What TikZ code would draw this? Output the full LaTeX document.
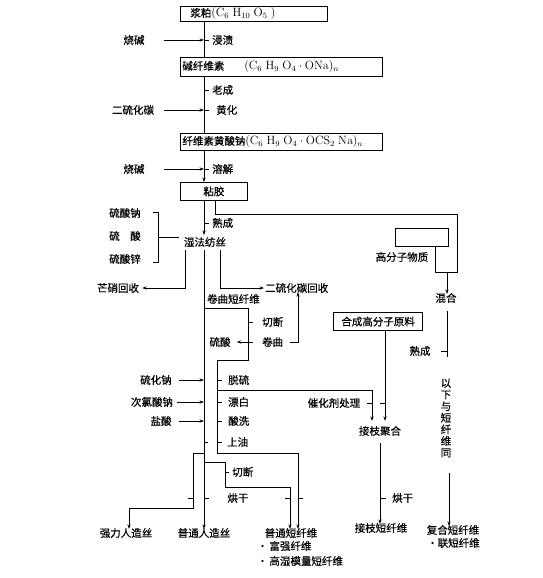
\documentclass[tikz,border=0pt]{standalone}
\usepackage[no-math]{fontspec}
\setmainfont{Noto Sans CJK SC}[FakeBold=0.5]
\usetikzlibrary{arrows.meta}
\newcommand{\fml}[1]{{\fontsize{12}{14}\selectfont$#1$}}
\begin{document}
\begin{tikzpicture}[x=1pt,y=-1pt,
  every node/.style={inner sep=0pt, font=\fontsize{10.5}{12}\selectfont},
  box/.style={draw, line width=0.8pt, inner sep=0pt, anchor=north west},
  ln/.style={line width=0.8pt},
  arr/.style={line width=0.8pt, -{Stealth[length=4.5pt,width=3.2pt]}},
  lw/.style={anchor=west},
]
\useasboundingbox[fill=white] (0,0) rectangle (543,578);

% x reference coordinates
\coordinate (mx) at (204,0);
\coordinate (rx) at (217,0);
\coordinate (c185) at (185,0);
\coordinate (c220) at (220,0);
\coordinate (c215) at (215,0);
\coordinate (c372) at (372,0);
\coordinate (c385) at (385,0);
\coordinate (c380) at (380,0);
\coordinate (c435) at (435,0);
\coordinate (c447) at (447,0);
\coordinate (c449) at (449,0);

% boxes
\node[box, minimum width=147pt, minimum height=15pt, text width=127pt, inner xsep=10pt, align=left] (b1) at (180,6) {浆粕\fml{(\mathrm{C_6\;H_{10}\;O_5}\;)}};
\node[box, minimum width=202pt, minimum height=19pt, text width=198pt, inner xsep=2pt, align=left] (b2) at (180,57) {碱纤维素\hspace{20pt}\fml{(\mathrm{C_6\;H_9\;O_4\cdot ONa})_n}};
\node[box, minimum width=202pt, minimum height=17pt, text width=198pt, inner xsep=2pt, align=left] (b3) at (180,133) {纤维素黄酸钠\fml{(\mathrm{C_6\;H_9\;O_4\cdot OCS_2\;Na})_n}};
\node[box, minimum width=67pt, minimum height=18pt] (b4) at (180,182) {粘胶};
\node[box, minimum width=53pt, minimum height=18pt] (b5) at (395,228) {};
\node[box, line width=1.2pt, minimum width=89pt, minimum height=18pt] (b6) at (333,312) {合成高分子原料};

% top labels
\node (sj1) at (134,40) {烧碱};
\node[lw] (jz) at (212,40) {浸渍};
\node[lw] (lc) at (212,90) {老成};
\node (cs2) at (133,110) {二硫化碳};
\node[lw] (hh1) at (216,110) {黄化};
\node (sj2) at (134,169) {烧碱};
\node[lw] (rj) at (212,169) {溶解};

% main column top
\draw[ln] (b1.south -| mx) -- (b2.north -| mx);
\draw[ln] (b2.south -| mx) -- (b3.north -| mx);
\draw[arr] (b3.south -| mx) -- (b4.north -| mx);

\draw[arr] ([xshift=19pt]sj1.east) -- (sj1.east -| mx);
\draw[ln] (jz.west -| mx) -- ++(5,0);
\draw[ln] (lc.west -| mx) -- ++(5,0);
\draw[arr] ([xshift=10pt]cs2.east) -- (cs2.east -| mx);
\draw[ln] (hh1.west -| mx) -- ++(5,0);
\draw[arr] ([xshift=19pt]sj2.east) -- (sj2.east -| mx);
\draw[ln] (rj.west -| mx) -- ++(5,0);

% spinning
\node (wet) at (205,242) {湿法纺丝};
\node[lw] (sc1) at (212,223) {熟成};
\draw[arr] (b4.south -| mx) -- ([yshift=2pt]wet.north -| mx);
\draw[ln] (sc1.west -| mx) -- ++(5,0);

\node (sn) at (125,213) {硫酸钠};
\node (ss) at (125,236) {硫\quad 酸};
\node (sz) at (125,259) {硫酸锌};
\coordinate (br1) at (153,212);
\coordinate (br2) at (158,212);
\coordinate (br3) at (158,262);
\coordinate (br4) at (153,262);
\coordinate (brm) at (158,237);
\draw[ln] (br1) -- (br2) -- (br3) -- (br4);
\draw[ln, shorten >=5pt] (brm) -- (brm -| wet.west);

\node (mx1) at (118,288) {芒硝回收};
\node[lw] (cs2r) at (265,288) {二硫化碳回收};
\draw[arr] ([yshift=-3pt]wet.south -| c185) |- ([xshift=3pt]mx1.east);
\draw[arr] ([yshift=-3pt]wet.south -| c220) |- ([xshift=-1pt]cs2r.west);

% main line down
\coordinate (j7) at (204,453);
\draw[ln] ([yshift=-3pt]wet.south -| mx) -- (j7);

\node[lw] (jqd) at (207,299) {卷曲短纤维};
\coordinate (j1) at (204,308);
\coordinate (j2) at (248,308);
\coordinate (j3) at (248,360);
\coordinate (j4) at (217,360);
\coordinate (j5) at (217,453);
\coordinate (j6) at (298,453);

\node[lw] (qd1) at (262,322) {切断};
\node (sa) at (220,342) {硫酸};
\node[lw] (jq) at (262,342) {卷曲};
\draw[ln] (qd1.west -| j2) -- ++(5,0);
\draw[ln] (jq.west -| j2) -- ++(5,0);
\draw[arr] (jq.west -| j2) -- ([xshift=6pt]sa.east);
\coordinate (u1) at (290,342);
\coordinate (u2) at (298,342);
\draw[arr] (u1) -- (u2) -- ([yshift=1pt]u2 |- cs2r.south);

% chemicals
\node (shn) at (156,380) {硫化钠};
\node[lw] (tl) at (228,380) {脱硫};
\node (clsn) at (152,402) {次氯酸钠};
\node[lw] (pb) at (228,402) {漂白};
\node (ys) at (161,421) {盐酸};
\node[lw] (sx) at (228,421) {酸洗};
\node[lw] (sy) at (227,442) {上油};
\draw[arr] ([xshift=7pt]shn.east) -- (shn.east -| mx);
\draw[arr] ([xshift=4pt]clsn.east) -- (clsn.east -| mx);
\draw[arr] ([xshift=7pt]ys.east) -- (ys.east -| mx);
\draw[ln] (tl.west -| rx) -- ++(5,0);
\draw[ln] (pb.west -| rx) -- ++(5,0);
\draw[ln] (sx.west -| rx) -- ++(5,0);
\draw[ln] (sy.west -| rx) -- ++(5,0);
\draw[ln] (sy.west -| mx) -- ++(4,0);

% bottom outputs
\node (qlrz) at (126,533) {强力人造丝};
\node (ptrz) at (204,533) {普通人造丝};
\node (pdx) at (291,533) {普通短纤维};
\node[lw] (fq) at (257,546) {·\,富强纤维};
\node[lw] (gs) at (257,561) {·\,高湿模量短纤维};

\draw[arr] (j1) -- (j2) -- (j3) -- (j4) -- (j5) -- (j6) -- ([yshift=-1pt]pdx.north -| j6);
\coordinate (l1) at (193,453);
\coordinate (l2) at (193,508);
\coordinate (l3) at (129,508);
\draw[arr] (j7) -- (l1) -- (l2) -- (l3) -- ([yshift=-1pt]qlrz.north -| l3);
\draw[arr] (j7) -- ([yshift=-1pt]ptrz.north -| mx);
\coordinate (k1) at (204,462);
\coordinate (k2) at (225,462);
\coordinate (k3) at (225,487);
\coordinate (k4) at (290,487);
\draw[arr] (k1) -- (k2) -- (k3) -- (k4) -- ([yshift=-1pt]pdx.north -| k4);
\node[lw] (qd2) at (232,472) {切断};
\draw[ln] (qd2.west -| k2) -- ++(4,0);
\node (hg1) at (238,498) {烘干};
\coordinate (t1) at (193,498);
\coordinate (t2) at (204,498);
\coordinate (t3) at (290,498);
\coordinate (t4) at (298,498);
\draw[ln] (t1) -- ++(-5,0);
\draw[ln] (t2) -- ++(5,0);
\draw[ln] (t3) -- ++(-5,0);
\draw[ln] (t4) -- ++(5,0);

% graft branch
\coordinate (g1) at (217,390);
\coordinate (g2) at (372,390);
\node (chj) at (334,403) {催化剂处理};
\node (jzjh) at (380,431) {接枝聚合};
\draw[arr, shorten >=5pt] (g1) -- (g2) -- (jzjh.north -| g2);
\draw[arr, shorten >=5pt] (b6.south -| c385) -- (jzjh.north -| c385);
\draw[ln] (chj.east -| c372) -- ++(-5,0);
\draw[ln] (chj.east -| c385) -- ++(-5,0);
\node (jzd) at (381,528) {接枝短纤维};
\node[lw] (hg2) at (392,498) {烘干};
\draw[arr] ([yshift=-7pt]jzjh.south -| c380) -- ([yshift=-1pt]jzd.north -| c380);
\draw[ln] (hg2.west -| c380) -- ++(6,0);

% composite branch
\node (gfz) at (402,257) {高分子物质};
\node (hh) at (446,298) {混合};
\coordinate (p1) at (215,214);
\coordinate (p2) at (457,214);
\coordinate (p3) at (457,272);
\coordinate (p4) at (435,272);
\coordinate (p5) at (447,272);
\draw[ln] (b4.south -| c215) -- (p1) -- (p2) -- (p3) -- (p4) -- (b5.south -| c435);
\draw[arr] (p5) -- ([yshift=-1pt]hh.north -| p5);
\coordinate (q1) at (447,311);
\coordinate (q2) at (447,357);
\draw[ln] (q1) -- (q2);
\node (sc2) at (420,351) {熟成};
\draw[ln] (sc2.east -| q1) -- ++(-6,0);
\node[align=center, font=\fontsize{10.5}{11.6}\selectfont] (yx) at (446,418) {以\\下\\与\\短\\纤\\维\\同};
\node (fhd) at (453,530) {复合短纤维};
\node[lw] (jl) at (427,543) {·联短纤维};
\coordinate (r1) at (449,473);
\draw[arr] (r1) -- ([yshift=-1pt]fhd.north -| r1);
\end{tikzpicture}
\end{document}
